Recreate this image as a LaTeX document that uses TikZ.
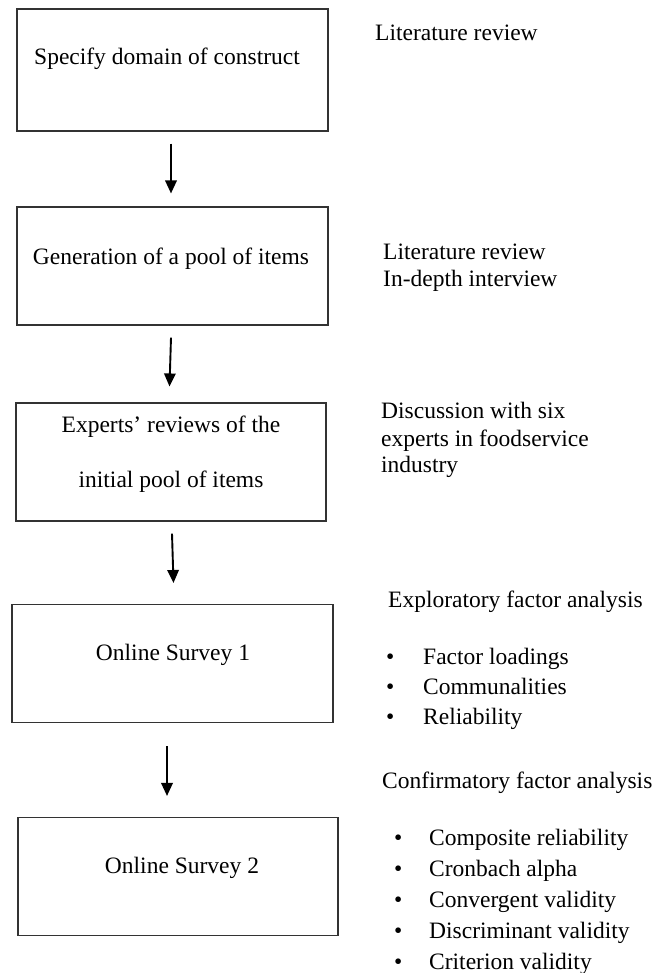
\documentclass[tikz,border=0pt]{standalone}
\usepackage{fontspec}
\setmainfont{Liberation Serif}
\usetikzlibrary{arrows.meta}
\begin{document}
\begin{tikzpicture}[x=1pt,y=-1pt,
  box/.style={draw=black!80,line width=1.1pt,minimum width=#1,minimum height=118pt,inner sep=0pt},
  txt/.style={font=\fontsize{23.5}{28}\selectfont,inner sep=0pt},
  arr/.style={line width=1.9pt,-{Triangle[length=13pt,width=11.5pt]}}]
\useasboundingbox (0,0) rectangle (667,973);
% boxes
\node[box=311pt,minimum height=122pt] (b1) at (172.5,70) {};
\node[box=311pt] (b2) at (172.5,266) {};
\node[box=310pt] (b3) at (171,462) {};
\node[box=321pt] (b4) at (172.5,663.5) {};
\node[box=320pt] (b5) at (178,876.5) {};
% box texts
\node[txt,anchor=base] (t1) at (167,65) {Specify domain of construct};
\node[txt,anchor=base] (t2) at (171,265) {Generation of a pool of items};
\node[txt,anchor=base] (t3a) at (171,432) {Experts’ reviews of the};
\node[txt,anchor=base] (t3b) at (171,487) {initial pool of items};
\node[txt,anchor=base] (t4) at (173,660) {Online Survey 1};
\node[txt,anchor=base] (t5) at (182,873) {Online Survey 2};
% arrows
\draw[arr] ([xshift=-1.5pt,yshift=-12pt]b1.south) -- ([xshift=-1.5pt,yshift=13pt]b2.north);
\draw[arr] ([xshift=-1.5pt,yshift=-12pt]b2.south) -- ([xshift=-1.5pt,yshift=16pt]b3.north);
\draw[arr] ([xshift=1pt,yshift=-12pt]b3.south) -- ([xshift=1pt,yshift=21pt]b4.north);
\draw[arr] ([xshift=-5.5pt,yshift=-23pt]b4.south) -- ([xshift=-11pt,yshift=21pt]b5.north);
% right column
\node[txt,anchor=base west] (r1) at (375,41) {Literature review};
\node[txt,anchor=base west] (r2a) at (383,260) {Literature review};
\node[txt,anchor=base west] (r2b) at (383,287) {In-depth interview};
\node[txt,anchor=base west] (r3a) at (381,418) {Discussion with six};
\node[txt,anchor=base west] (r3b) at (381,446) {experts in foodservice};
\node[txt,anchor=base west] (r3c) at (381,472) {industry};
\node[txt,anchor=base west] (r4) at (388,607) {Exploratory factor analysis};
\foreach \t [count=\i] in {Factor loadings,Communalities,Reliability}{
  \node[txt,anchor=base west] (e\i b) at (386,{634+30*\i}) {•};
  \node[txt,anchor=base west] (e\i) at (423,{634+30*\i}) {\t};
}
\node[txt,anchor=base west] (r5) at (382,788) {Confirmatory factor analysis};
\foreach \t [count=\i] in {Composite reliability,Cronbach alpha,Convergent validity,Discriminant validity,Criterion validity}{
  \node[txt,anchor=base west] (c\i b) at (394,{814+31*\i}) {•};
  \node[txt,anchor=base west] (c\i) at (429,{814+31*\i}) {\t};
}
\end{tikzpicture}
\end{document}
